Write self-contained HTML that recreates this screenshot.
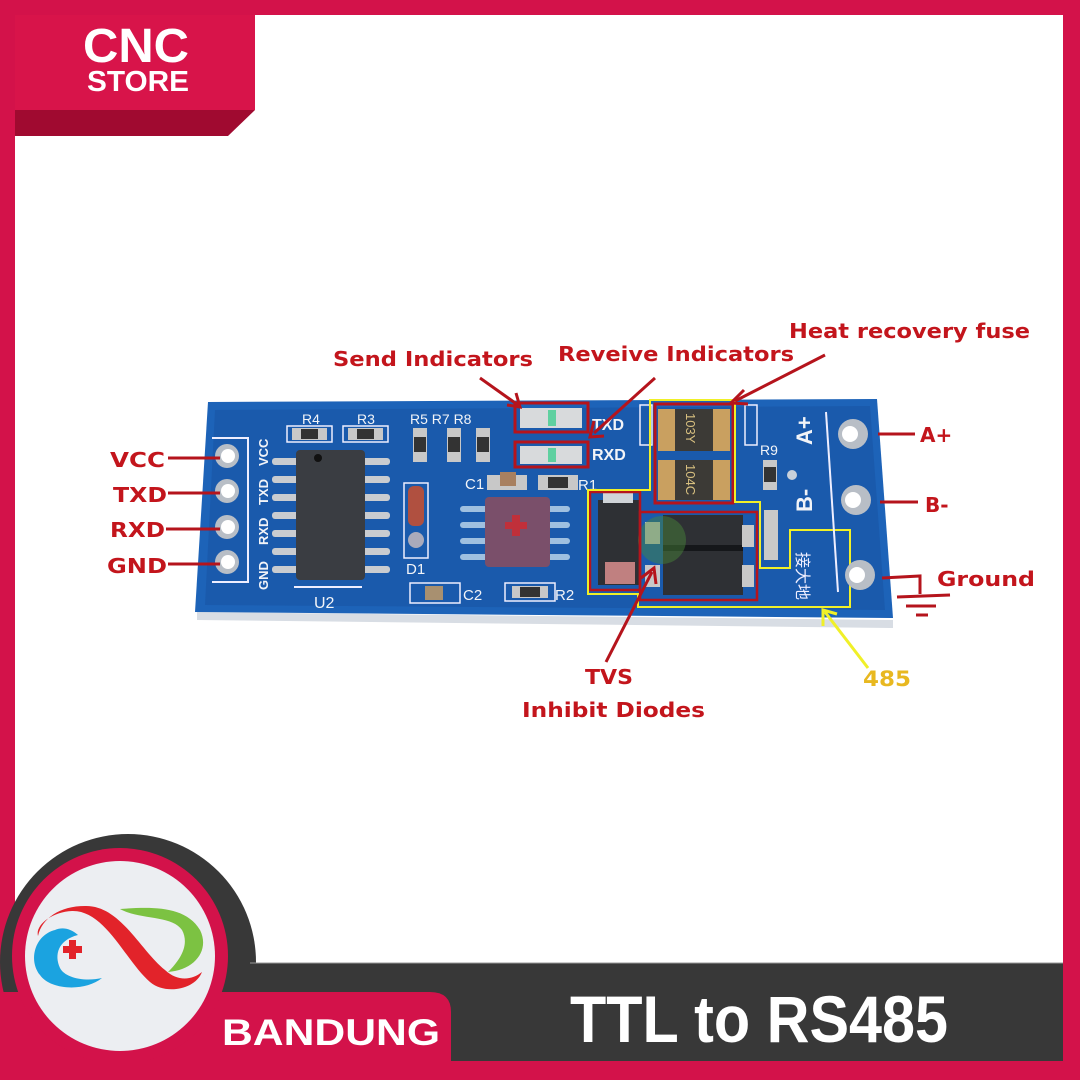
<!DOCTYPE html>
<html><head><meta charset="utf-8"><style>
html,body{margin:0;padding:0;background:#fff}
svg{display:block}
.lb{font-family:"DejaVu Sans","Liberation Sans",sans-serif;font-weight:bold;fill:#c3151c}
.sk{font-family:"Liberation Sans","DejaVu Sans",sans-serif;fill:#f2f4f8}
</style></head><body>
<svg width="1080" height="1080" viewBox="0 0 1080 1080" xmlns="http://www.w3.org/2000/svg">
<rect width="1080" height="1080" fill="#fff"/>
<!-- frame -->
<rect x="0" y="0" width="1080" height="15" fill="#d3124a"/>
<rect x="0" y="0" width="15" height="1080" fill="#d3124a"/>
<rect x="1063" y="0" width="17" height="1080" fill="#d3124a"/>
<!-- top logo -->
<rect x="15" y="15" width="240" height="95" fill="#d8144a"/>
<polygon points="15,110 255,110 228,136 15,136" fill="#a00a30"/>
<text x="136" y="62" text-anchor="middle" font-family="Liberation Sans,sans-serif" font-weight="bold" font-size="48" fill="#fff" textLength="106" lengthAdjust="spacingAndGlyphs">CNC</text>
<text x="138" y="91" text-anchor="middle" font-family="Liberation Sans,sans-serif" font-weight="bold" font-size="29" fill="#fff" textLength="102" lengthAdjust="spacingAndGlyphs">STORE</text>

<!-- board -->
<polygon points="197,612 893,620 893,628 197,620" fill="#d8dde4"/>
<polygon points="208,402 877,399 893,618 195,612" fill="#1d63b8"/>
<polygon points="215,410 870,406 885,610 205,605" fill="#1a5aac"/>
<!-- left pins silk -->
<polyline points="212,438 248,438 248,582 212,582" fill="none" stroke="#eef" stroke-width="2"/>
<g fill="#b8bec6"><circle cx="227" cy="456" r="12"/><circle cx="227" cy="491" r="12"/><circle cx="227" cy="527" r="12"/><circle cx="227" cy="562" r="12"/></g>
<g fill="#fff"><circle cx="228" cy="456" r="7"/><circle cx="228" cy="491" r="7"/><circle cx="228" cy="527" r="7"/><circle cx="228" cy="562" r="7"/></g>
<g class="sk" font-size="13" font-weight="bold">
<text transform="translate(268,466) rotate(-90)">VCC</text>
<text transform="translate(268,505) rotate(-90)">TXD</text>
<text transform="translate(268,545) rotate(-90)">RXD</text>
<text transform="translate(268,590) rotate(-90)">GND</text>
</g>
<!-- U2 -->
<g fill="#c9ccd0">
<rect x="272" y="458" width="118" height="7" rx="3"/><rect x="272" y="476" width="118" height="7" rx="3"/><rect x="272" y="494" width="118" height="7" rx="3"/><rect x="272" y="512" width="118" height="7" rx="3"/><rect x="272" y="530" width="118" height="7" rx="3"/><rect x="272" y="548" width="118" height="7" rx="3"/><rect x="272" y="566" width="118" height="7" rx="3"/>
</g>
<rect x="296" y="450" width="69" height="130" rx="4" fill="#3a3d42"/>
<circle cx="318" cy="458" r="4" fill="#111"/>
<line x1="294" y1="587" x2="362" y2="587" stroke="#eef" stroke-width="2"/>
<text x="314" y="608" class="sk" font-size="16">U2</text>
<!-- R4 R3 -->
<text x="302" y="424" class="sk" font-size="14">R4</text><text x="357" y="424" class="sk" font-size="14">R3</text>
<rect x="287" y="426" width="45" height="16" fill="none" stroke="#eef" stroke-width="1.5"/>
<rect x="343" y="426" width="45" height="16" fill="none" stroke="#eef" stroke-width="1.5"/>
<rect x="292" y="428" width="35" height="12" fill="#c8c8c8"/><rect x="301" y="429" width="17" height="10" fill="#333"/>
<rect x="348" y="428" width="35" height="12" fill="#c8c8c8"/><rect x="357" y="429" width="17" height="10" fill="#333"/>
<!-- R5 R7 R8 -->
<text x="410" y="424" class="sk" font-size="14">R5 R7 R8</text>
<g fill="#c8c8c8"><rect x="413" y="428" width="14" height="34"/><rect x="447" y="428" width="14" height="34"/><rect x="476" y="428" width="14" height="34"/></g>
<g fill="#333"><rect x="414" y="437" width="12" height="15"/><rect x="448" y="437" width="12" height="15"/><rect x="477" y="437" width="12" height="15"/></g>
<!-- D1 -->
<rect x="404" y="483" width="24" height="75" fill="none" stroke="#eef" stroke-width="1.5"/>
<rect x="408" y="486" width="16" height="40" rx="6" fill="#b05040"/>
<circle cx="416" cy="540" r="8" fill="#aab"/>
<text x="406" y="574" class="sk" font-size="15">D1</text>
<!-- C1 R1 -->
<text x="465" y="489" class="sk" font-size="15">C1</text>
<rect x="487" y="475" width="40" height="15" fill="#c8c8c8"/><rect x="500" y="472" width="16" height="14" fill="#a88060"/>
<rect x="538" y="475" width="40" height="15" fill="#c8c8c8"/><rect x="548" y="477" width="20" height="11" fill="#333"/>
<text x="578" y="490" class="sk" font-size="15">R1</text>
<!-- U1 -->
<g fill="#9fc0e0"><rect x="460" y="506" width="110" height="6" rx="3"/><rect x="460" y="522" width="110" height="6" rx="3"/><rect x="460" y="538" width="110" height="6" rx="3"/><rect x="460" y="554" width="110" height="6" rx="3"/></g>
<rect x="485" y="497" width="65" height="70" rx="4" fill="#7a4f6a"/>
<rect x="505" y="522" width="22" height="7" fill="#c0303a"/><rect x="512" y="515" width="8" height="21" fill="#c0303a"/>
<!-- C2 R2 -->
<rect x="410" y="583" width="50" height="20" fill="none" stroke="#eef" stroke-width="1.5"/>
<rect x="425" y="586" width="18" height="14" fill="#a89070"/>
<text x="463" y="600" class="sk" font-size="15">C2</text>
<rect x="505" y="583" width="50" height="18" fill="none" stroke="#eef" stroke-width="1.5"/>
<rect x="512" y="586" width="36" height="12" fill="#c8c8c8"/><rect x="520" y="587" width="20" height="10" fill="#333"/>
<text x="555" y="600" class="sk" font-size="15">R2</text>
<!-- LEDs -->
<rect x="520" y="408" width="62" height="20" fill="#d8dadc"/><rect x="548" y="410" width="8" height="16" fill="#5fd0a0"/>
<rect x="520" y="446" width="62" height="18" fill="#d8dadc"/><rect x="548" y="448" width="8" height="14" fill="#5fd0a0"/>
<rect x="515" y="403" width="73" height="29" fill="none" stroke="#b5141c" stroke-width="3"/>
<rect x="515" y="442" width="73" height="25" fill="none" stroke="#b5141c" stroke-width="3"/>
<text x="592" y="430" class="sk" font-size="16" font-weight="bold">TXD</text>
<text x="592" y="460" class="sk" font-size="16" font-weight="bold">RXD</text>
<!-- fuses -->
<rect x="640" y="405" width="12" height="40" fill="none" stroke="#eef" stroke-width="1.5"/>
<rect x="745" y="405" width="12" height="40" fill="none" stroke="#eef" stroke-width="1.5"/>
<rect x="658" y="409" width="72" height="42" fill="#c9a060"/><rect x="675" y="409" width="38" height="42" fill="#3c3a36"/>
<rect x="658" y="460" width="72" height="40" fill="#c9a060"/><rect x="675" y="460" width="38" height="40" fill="#3c3a36"/>
<text transform="translate(686,413) rotate(90)" font-family="Liberation Sans,sans-serif" font-size="13" fill="#d8c080">103Y</text>
<text transform="translate(686,464) rotate(90)" font-family="Liberation Sans,sans-serif" font-size="13" fill="#d8c080">104C</text>
<!-- R9 -->
<text x="760" y="455" class="sk" font-size="14">R9</text>
<rect x="763" y="460" width="14" height="30" fill="#c8c8c8"/><rect x="764" y="467" width="12" height="15" fill="#333"/>
<circle cx="792" cy="475" r="5" fill="#c8d0da"/>
<rect x="764" y="510" width="14" height="50" fill="#c8c8c8"/>
<!-- TVS -->
<rect x="598" y="500" width="42" height="85" fill="#2e3034"/><rect x="603" y="493" width="30" height="10" fill="#d0d4d8"/>
<rect x="605" y="562" width="30" height="22" fill="#c08080"/>
<rect x="645" y="522" width="15" height="22" fill="#c8c8c8"/><rect x="645" y="565" width="15" height="22" fill="#c8c8c8"/>
<rect x="663" y="515" width="80" height="80" fill="#2e3034"/><rect x="663" y="545" width="80" height="6" fill="#15171a"/>
<rect x="742" y="525" width="12" height="22" fill="#c8c8c8"/><rect x="742" y="565" width="12" height="22" fill="#c8c8c8"/>
<circle cx="662" cy="540" r="24" fill="#4a8a3a" opacity="0.45"/>
<rect x="590" y="492" width="50" height="98" fill="none" stroke="#b5141c" stroke-width="2.5"/>
<rect x="640" y="512" width="117" height="88" fill="none" stroke="#b5141c" stroke-width="2.5"/>
<rect x="655" y="404" width="78" height="99" fill="none" stroke="#b5141c" stroke-width="3"/>
<polygon points="650,400 735,400 735,502 760,502 760,568 790,568 790,530 850,530 850,607 638,607 638,594 588,594 588,490 650,490" fill="none" stroke="#f0f028" stroke-width="2"/>
<!-- right side -->
<line x1="826" y1="412" x2="838" y2="592" stroke="#eef" stroke-width="2"/>
<text transform="translate(812,445) rotate(-90)" class="sk" font-size="22" font-weight="bold">A+</text>
<text transform="translate(812,512) rotate(-90)" class="sk" font-size="22" font-weight="bold">B-</text>
<text transform="translate(797,552) rotate(90)" font-family="Noto Sans CJK SC,sans-serif" font-size="16" fill="#eef">接大地</text>
<g fill="#b8bec6"><circle cx="853" cy="434" r="15"/><circle cx="856" cy="500" r="15"/><circle cx="860" cy="575" r="15"/></g>
<g fill="#fff"><circle cx="850" cy="434" r="8"/><circle cx="853" cy="500" r="8"/><circle cx="857" cy="575" r="8"/></g>
<!-- labels left -->
<g class="lb" font-size="20">
<text x="110" y="467" textLength="55" lengthAdjust="spacingAndGlyphs">VCC</text>
<text x="113" y="502" textLength="54" lengthAdjust="spacingAndGlyphs">TXD</text>
<text x="110" y="537" textLength="55" lengthAdjust="spacingAndGlyphs">RXD</text>
<text x="107" y="573" textLength="60" lengthAdjust="spacingAndGlyphs">GND</text>
</g>
<g stroke="#b5141c" stroke-width="3">
<line x1="168" y1="458" x2="220" y2="458"/><line x1="168" y1="493" x2="220" y2="493"/><line x1="166" y1="529" x2="220" y2="529"/><line x1="168" y1="564" x2="220" y2="564"/>
<line x1="878" y1="434" x2="915" y2="434"/><line x1="880" y1="502" x2="918" y2="502"/>
<polyline points="882,578 920,576 920,594" fill="none"/><line x1="897" y1="597" x2="950" y2="595"/><line x1="906" y1="606" x2="936" y2="606"/><line x1="916" y1="615" x2="928" y2="615"/>
</g>
<g class="lb" font-size="20">
<text x="920" y="442">A+</text><text x="925" y="512">B-</text>
<text x="937" y="586" textLength="98" lengthAdjust="spacingAndGlyphs">Ground</text>
<text x="333" y="366" textLength="200" lengthAdjust="spacingAndGlyphs">Send Indicators</text>
<text x="558" y="361" textLength="236" lengthAdjust="spacingAndGlyphs">Reveive Indicators</text>
<text x="789" y="338" textLength="241" lengthAdjust="spacingAndGlyphs">Heat recovery fuse</text>
<text x="585" y="684" textLength="48" lengthAdjust="spacingAndGlyphs">TVS</text>
<text x="522" y="717" textLength="183" lengthAdjust="spacingAndGlyphs">Inhibit Diodes</text>
</g>
<text x="863" y="686" font-family="DejaVu Sans,sans-serif" font-weight="bold" font-size="21" fill="#e8b820" textLength="48" lengthAdjust="spacingAndGlyphs">485</text>
<!-- arrows -->
<g stroke="#b5141c" stroke-width="3" fill="none">
<line x1="480" y1="378" x2="518" y2="405"/><polyline points="507,405 520,407 516,393"/>
<line x1="655" y1="378" x2="594" y2="433"/><polyline points="594,421 590,437 604,436"/>
<line x1="825" y1="355" x2="735" y2="401"/><polyline points="744,390 731,403 748,404"/>
<line x1="606" y1="662" x2="652" y2="572"/><polyline points="641,578 654,568 656,584"/>
</g>
<g stroke="#f0f028" stroke-width="3" fill="none">
<line x1="868" y1="668" x2="825" y2="612"/><polyline points="823,626 823,610 837,614"/>
</g>

<!-- bottom -->
<circle cx="128" cy="962" r="128" fill="#383838"/>
<rect x="250" y="963" width="813" height="98" fill="#383838"/>
<line x1="250" y1="963" x2="1063" y2="963" stroke="#999" stroke-width="1"/>
<path d="M0,992 H430 Q451,992 451,1012 V1080 H0 Z" fill="#d3124a"/>
<circle cx="120" cy="956" r="108" fill="#d3124a"/>
<circle cx="120" cy="956" r="95" fill="#eceef2"/>
<rect x="0" y="1061" width="1080" height="19" fill="#d3124a"/>
<!-- logo icon -->
<path d="M38,936 C35,925 52,912 72,911 C105,910 125,960 150,982 C165,995 195,990 202,972 C192,980 178,982 165,970 C140,950 120,905 85,906 C60,906 42,918 38,936 Z" fill="#e2232a"/>
<path d="M55,930 C35,935 28,960 40,975 C50,990 85,992 102,978 C85,982 65,978 60,968 C54,955 58,940 78,935 C70,928 62,927 55,930 Z" fill="#1ba3e0"/>
<path d="M120,909 C150,907 185,905 200,930 C210,950 195,970 168,972 C180,960 190,945 182,930 C172,915 140,920 120,909 Z" fill="#7cc242"/>
<rect x="63" y="946" width="19" height="7" fill="#e2232a"/><rect x="69" y="940" width="7" height="19" fill="#e2232a"/>
<text x="222" y="1045" font-family="Liberation Sans,sans-serif" font-weight="bold" font-size="37" fill="#fff" textLength="218" lengthAdjust="spacingAndGlyphs">BANDUNG</text>
<text x="570" y="1042" font-family="Liberation Sans,sans-serif" font-weight="bold" font-size="66" fill="#fff" textLength="378" lengthAdjust="spacingAndGlyphs">TTL to RS485</text>
</svg>
</body></html>
